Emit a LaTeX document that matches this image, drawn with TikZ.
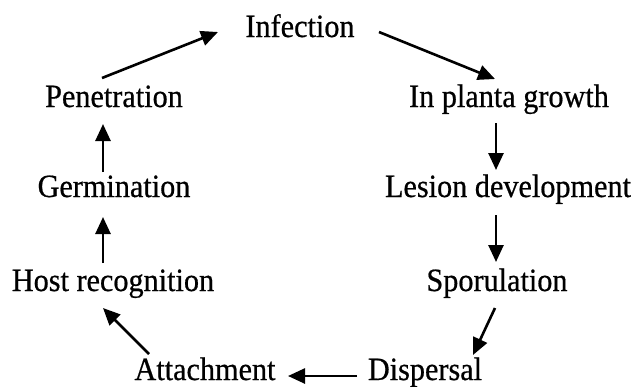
\documentclass[tikz,border=0pt]{standalone}
\usepackage{fontspec}
\setmainfont{Liberation Serif}[FakeStretch=0.93,FakeBold=0.6]
\usetikzlibrary{arrows.meta}
\begin{document}
\begin{tikzpicture}[x=1pt,y=-1pt,
  lbl/.style={anchor=base,inner sep=0pt,font=\fontsize{32.5}{38}\selectfont},
  arr/.style={line width=2.6pt,-{Triangle[length=17pt,width=15pt]}}]
\useasboundingbox[fill=white] (0,0) rectangle (635,386);
\node[lbl] (inf)  at (300,37)  {Infection};
\node[lbl] (pen)  at (114,107) {Penetration};
\node[lbl] (ipg)  at (509,107) {In planta growth};
\node[lbl] (ger)  at (114,197) {Germination};
\node[lbl] (les)  at (508,197) {Lesion development};
\node[lbl] (host) at (113,291) {Host recognition};
\node[lbl] (spor) at (497,291) {Sporulation};
\node[lbl] (att)  at (205,380) {Attachment};
\node[lbl] (dis)  at (425,380) {Dispersal};
\draw[arr] ([shift={(-12,-29)}]pen.base) -- ([shift={(-82,-5)}]inf.base);
\draw[arr] ([shift={(79,-5)}]inf.base) -- ([shift={(-14,-28)}]ipg.base);
\draw[arr] ([shift={(-13,16)}]ipg.base) -- ([shift={(-12,-27)}]les.base);
\draw[arr] ([shift={(-12,18)}]les.base) -- ([shift={(-1,-29)}]spor.base);
\draw[arr] ([shift={(-2,17)}]spor.base) -- ([shift={(48,-25)}]dis.base);
\draw[arr] ([shift={(-68,-4)}]dis.base) -- ([shift={(83,-4)}]att.base);
\draw[arr] ([shift={(-56,-26)}]att.base) -- ([shift={(-10,17)}]host.base);
\draw[arr] ([shift={(-10,-28)}]host.base) -- ([shift={(-11,20)}]ger.base);
\draw[arr] ([shift={(-11,-25)}]ger.base) -- ([shift={(-11,17)}]pen.base);
\end{tikzpicture}
\end{document}
